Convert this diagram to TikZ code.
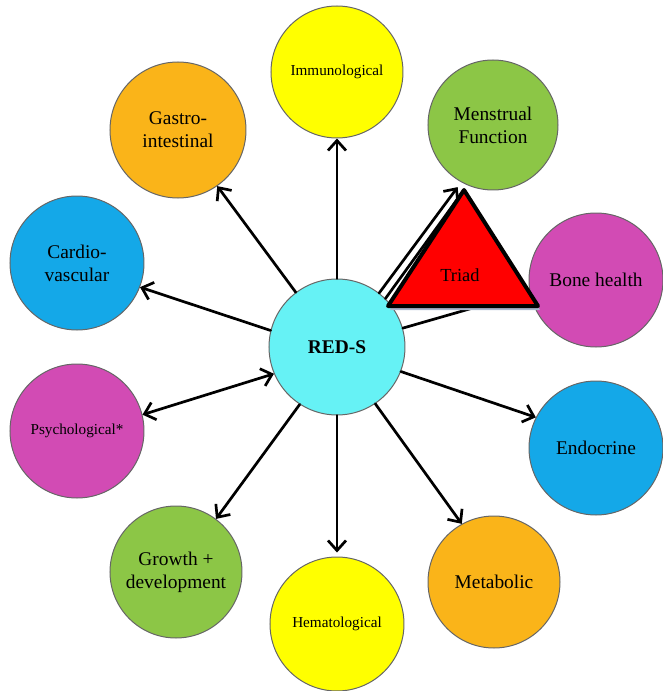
\documentclass[tikz,border=0pt]{standalone}
\usepackage{fontspec}
\setmainfont{Liberation Serif}
\usetikzlibrary{arrows.meta}
\definecolor{redscyan}{RGB}{102,242,245}
\definecolor{ballyellow}{RGB}{255,255,0}
\definecolor{ballgreen}{RGB}{140,198,70}
\definecolor{ballorange}{RGB}{250,180,25}
\definecolor{ballblue}{RGB}{20,168,232}
\definecolor{ballpink}{RGB}{210,75,180}
\definecolor{triadshadow}{RGB}{170,182,205}
\begin{document}
\begin{tikzpicture}[x=50pt,y=50pt,line join=round,line cap=round,>={Straight Barb[length=5pt,width=9pt]}]
			\tikzset{organ/.style={circle,draw=black!60,line width=0.5pt,minimum size=66pt,inner sep=0pt,align=center,font=\fontsize{9.7}{11.5}\selectfont},
				small text/.style={font=\fontsize{7.6}{9}\selectfont},
				link/.style={line width=1.35pt}}
			\useasboundingbox (-3.37,-3.44) rectangle (3.26,3.47);
			\node[organ,fill=redscyan,minimum size=68pt,font=\bfseries\fontsize{9.7}{12}\selectfont] (reds) at (0,0) {RED-S};
			\node[organ,fill=ballyellow,small text] (immuno) at (0,2.75) {Immunological};
			\node[organ,fill=ballgreen,minimum size=65pt] (menstrual) at (1.56,2.22) {Menstrual\\Function};
			\node[organ,fill=ballpink,minimum size=67pt] (bone) at (2.59,0.67) {Bone health};
			\node[organ,fill=ballblue,minimum size=67pt] (endocrine) at (2.59,-1.01) {Endocrine};
			\node[organ,fill=ballorange] (metabolic) at (1.57,-2.35) {Metabolic};
			\node[organ,fill=ballyellow,minimum size=67pt,small text] (hemato) at (0,-2.77) {Hematological};
			\node[organ,fill=ballgreen] (growth) at (-1.61,-2.25) {Growth +\\development};
			\node[organ,fill=ballpink,minimum size=67pt,small text] (psych) at (-2.60,-0.84) {Psychological*};
			\node[organ,fill=ballblue,minimum size=67pt] (cardio) at (-2.60,0.84) {Cardio-\\vascular};
			\node[organ,fill=ballorange,minimum size=68pt] (gastro) at (-1.59,2.17) {Gastro-\\intestinal};
			\coordinate (apex) at (1.27,1.57);
			% links from RED-S
			\draw[link,->] (reds.north) -- (immuno.south);
			\draw[link,->] (reds.127) -- (gastro.-55);
			\draw[link,->] (reds.166) -- (cardio.-21);
			\draw[link,<->] (reds.-157) -- (psych.14);
			\draw[link,->] (reds.-123) -- (growth.53);
			\draw[link,->,shorten >=2pt] (reds.south) -- (hemato.north);
			\draw[link,->] (reds.-56) -- (metabolic.119);
			\draw[link,->] (reds.-21) -- (endocrine.153);
			\draw[link,->] (reds.16) -- (bone.190);
			\draw[link,->,shorten >=3pt] (reds.52) -- (menstrual.-119);
			\draw[link] (reds.45) -- (apex);
			% triad
			\fill[triadshadow] (1.29,1.53) -- (0.53,0.37) -- (2.03,0.37) -- cycle;
			\draw[line width=2pt,fill=red] (apex) -- (0.51,0.41) -- (2.01,0.41) -- cycle;
			\node[font=\fontsize{9.2}{11}\selectfont] (triad) at (1.23,0.72) {Triad};
	\end{tikzpicture}
\end{document}
